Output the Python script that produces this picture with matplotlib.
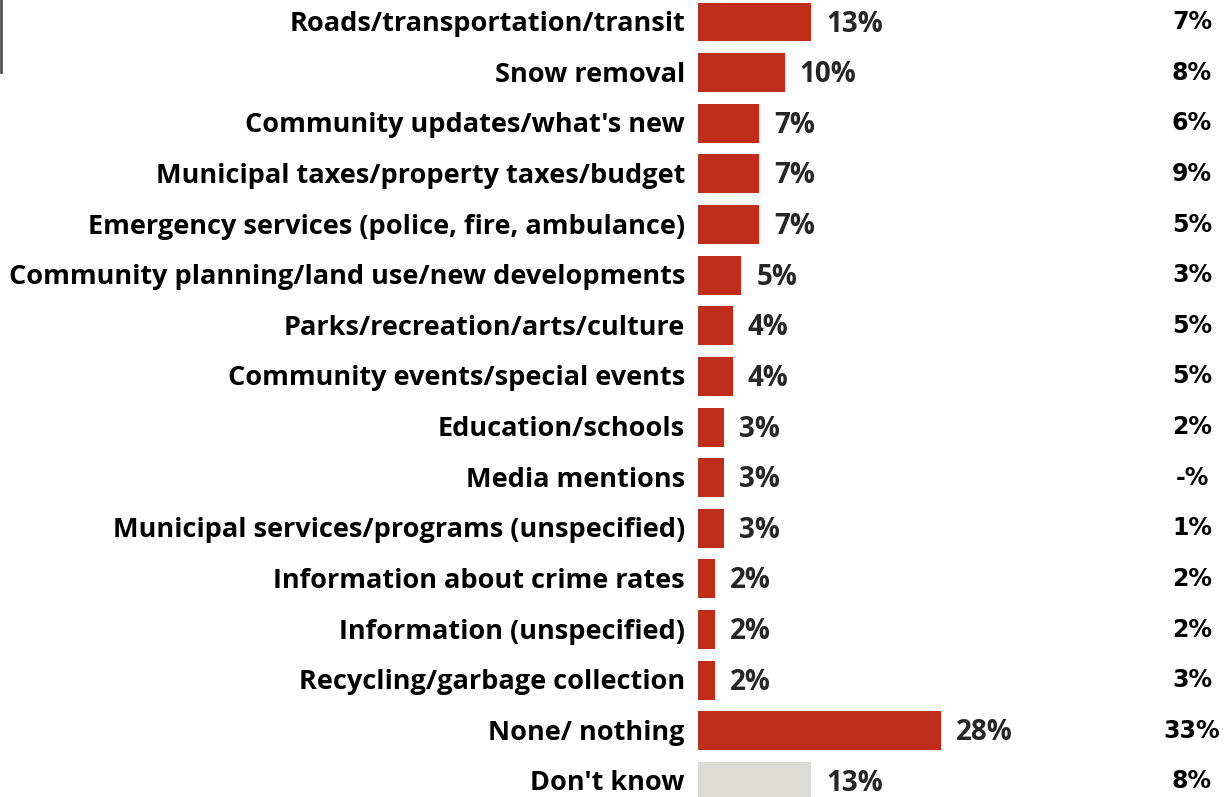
import matplotlib
matplotlib.use("Agg")
import matplotlib.pyplot as plt
from matplotlib.lines import Line2D

categories = [
    "Roads/transportation/transit",
    "Snow removal",
    "Community updates/what's new",
    "Municipal taxes/property taxes/budget",
    "Emergency services (police, fire, ambulance)",
    "Community planning/land use/new developments",
    "Parks/recreation/arts/culture",
    "Community events/special events",
    "Education/schools",
    "Media mentions",
    "Municipal services/programs (unspecified)",
    "Information about crime rates",
    "Information (unspecified)",
    "Recycling/garbage collection",
    "None/ nothing",
    "Don't know",
]
current = [13, 10, 7, 7, 7, 5, 4, 4, 3, 3, 3, 2, 2, 2, 28, 13]
previous = ["7%", "8%", "6%", "9%", "5%", "3%", "5%", "5%", "2%", "-%", "1%", "2%", "2%", "3%", "33%", "8%"]

W, H = 1224, 797
fig = plt.figure(figsize=(W / 100, H / 100), dpi=100)
fig.patch.set_facecolor("white")

px_per_pct = 8.68
row_h = 50.63
y0 = 22
left_px = 698
ax = fig.add_axes([left_px / W, 0, 1 - left_px / W, 1])
ax.set_xlim(0, (W - left_px) / px_per_pct)
ax.set_ylim((H - y0) / row_h, -y0 / row_h)
ax.axis("off")

red = "#BF2E1D"
grey = "#DCDCD4"
colors = [red] * (len(categories) - 1) + [grey]
ypos = list(range(len(categories)))
ax.barh(ypos, current, height=0.77, color=colors, edgecolor="none")

label_font = dict(family="Open Sans", fontweight="bold", fontsize=19.5)
value_font = dict(family="Open Sans", fontweight="bold", fontsize=20)
for y, cat, v, prev in zip(ypos, categories, current, previous):
    ax.annotate(cat, xy=(0, y), xytext=(-13, -2), textcoords="offset pixels",
                ha="right", va="center", color="#000000", **label_font)
    ax.annotate(f"{v}%", xy=(v, y), xytext=(15, -2), textcoords="offset pixels",
                ha="left", va="center", color="#262626", **value_font)
    fig.text(1192 / W, 1 - (y0 + y * row_h) / H, prev, ha="center", va="center",
             family="DejaVu Sans", fontweight="bold", fontsize=17, color="#000000")

fig.add_artist(Line2D([1 / W, 1 / W], [1, 1 - 72 / H], color="#555555", lw=2))

fig.savefig("out.png", dpi=100, facecolor="white")
